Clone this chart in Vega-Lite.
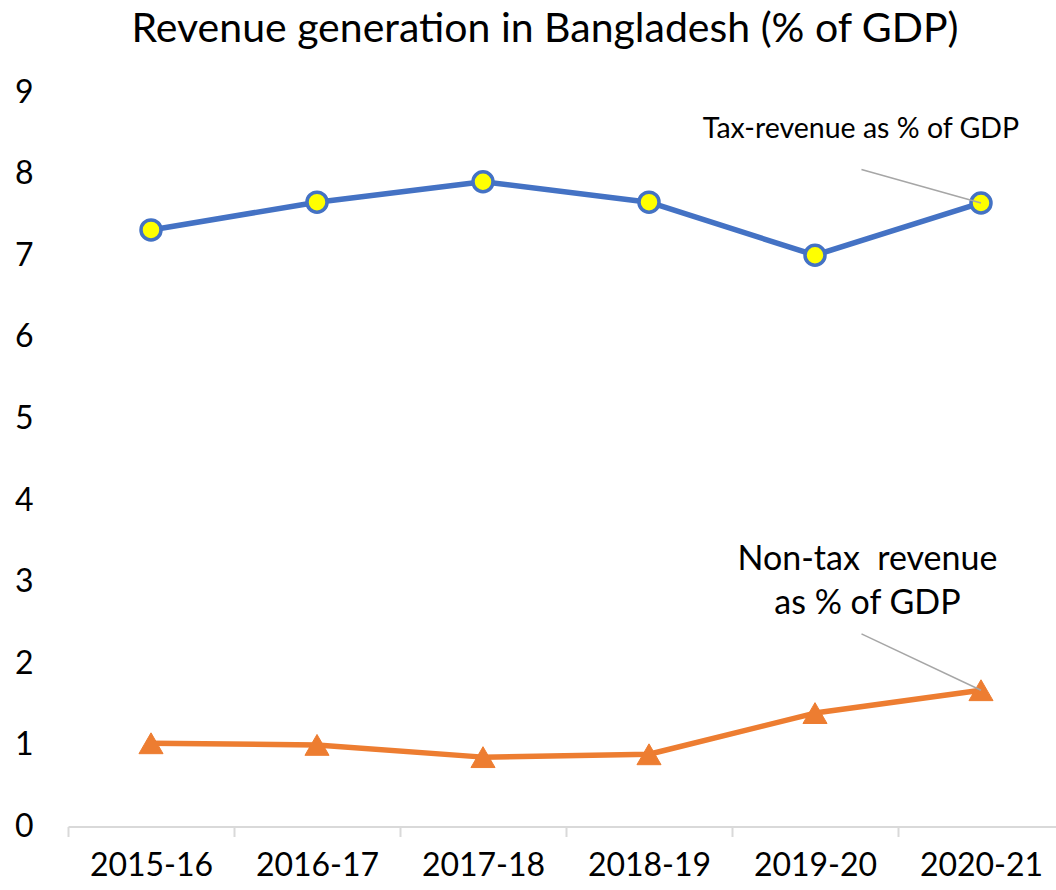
{
  "$schema": "https://vega.github.io/schema/vega-lite/v6.json",
  "autosize": {"type": "none"},
  "width": 988,
  "height": 734.5,
  "padding": {"left": 68, "top": 92, "right": 0, "bottom": 63.5},
  "background": "white",
  "config": {"view": {"stroke": null}, "font": "Lato"},
  "title": {
    "text": "Revenue generation in Bangladesh (% of GDP)",
    "font": "Lato",
    "fontSize": 41,
    "fontWeight": "normal",
    "color": "#000000",
    "anchor": "middle",
    "frame": "group",
    "dx": -17,
    "offset": 25
  },
  "datasets": {
    "series": [
      {"year": "2015-16", "series": "Tax", "value": 7.31},
      {"year": "2016-17", "series": "Tax", "value": 7.65},
      {"year": "2017-18", "series": "Tax", "value": 7.90},
      {"year": "2018-19", "series": "Tax", "value": 7.65},
      {"year": "2019-20", "series": "Tax", "value": 7.00},
      {"year": "2020-21", "series": "Tax", "value": 7.64},
      {"year": "2015-16", "series": "Non-tax", "value": 1.02},
      {"year": "2016-17", "series": "Non-tax", "value": 1.00},
      {"year": "2017-18", "series": "Non-tax", "value": 0.85},
      {"year": "2018-19", "series": "Non-tax", "value": 0.885},
      {"year": "2019-20", "series": "Non-tax", "value": 1.39},
      {"year": "2020-21", "series": "Non-tax", "value": 1.67}
    ],
    "leaders": [
      {"from": "2019-20", "to": "2020-21", "y1": 8.05, "y2": 7.64},
      {"from": "2019-20", "to": "2020-21", "y1": 2.36, "y2": 1.67}
    ],
    "taxNote": [
      {"x": "2019-20", "y": 8.55, "label": "Tax-revenue as % of GDP"}
    ],
    "nonTaxNote": [
      {"x": "2019-20", "y": 3.27, "label": "Non-tax\u00a0 revenue"},
      {"x": "2019-20", "y": 2.73, "label": "as % of GDP"}
    ]
  },
  "layer": [
    {
      "data": {"name": "series"},
      "mark": {"type": "line", "strokeWidth": 5.5, "strokeJoin": "round", "strokeCap": "round"},
      "encoding": {
        "x": {
          "field": "year", "type": "nominal",
          "scale": {"type": "band", "paddingInner": 0, "paddingOuter": 0, "range": [0, 996]},
          "axis": {
            "title": null, "labelAngle": 0, "labelFontSize": 32, "labelColor": "#000000",
            "labelPadding": 14, "domainColor": "#d9d9d9", "domainWidth": 2,
            "tickColor": "#d9d9d9", "tickWidth": 2, "tickSize": 10, "tickBand": "extent",
            "grid": false, "labelFont": "Lato"
          }
        },
        "y": {
          "field": "value", "type": "quantitative",
          "scale": {"domain": [0, 9], "nice": false, "zero": true},
          "axis": {
            "title": null, "values": [0, 1, 2, 3, 4, 5, 6, 7, 8, 9], "format": "d", "domain": false, "ticks": false,
            "grid": false, "labelFontSize": 32, "labelColor": "#000000", "labelPadding": 35,
            "labelFont": "Lato"
          }
        },
        "color": {
          "field": "series", "type": "nominal",
          "scale": {"domain": ["Tax", "Non-tax"], "range": ["#4472c4", "#ed7d31"]},
          "legend": null
        },
        "detail": {"field": "series"}
      }
    },
    {
      "data": {"name": "series"},
      "transform": [{"filter": "datum.series === 'Tax'"}],
      "mark": {"type": "point", "shape": "circle", "filled": true, "fill": "#ffff00", "stroke": "#4472c4", "strokeWidth": 3.5, "size": 400, "opacity": 1},
      "encoding": {
        "x": {"field": "year", "type": "nominal"},
        "y": {"field": "value", "type": "quantitative"}
      }
    },
    {
      "data": {"name": "series"},
      "transform": [{"filter": "datum.series === 'Non-tax'"}],
      "mark": {"type": "point", "shape": "triangle-up", "filled": true, "fill": "#ed7d31", "stroke": "#ed7d31", "strokeWidth": 1, "size": 580, "opacity": 1},
      "encoding": {
        "x": {"field": "year", "type": "nominal"},
        "y": {"field": "value", "type": "quantitative"}
      }
    },
    {
      "data": {"name": "leaders"},
      "mark": {"type": "rule", "color": "#a6a6a6", "strokeWidth": 1.5},
      "encoding": {
        "x": {"field": "from", "type": "nominal", "bandPosition": 0.78},
        "x2": {"field": "to", "bandPosition": 0.5},
        "y": {"field": "y1", "type": "quantitative"},
        "y2": {"field": "y2"}
      }
    },
    {
      "data": {"name": "taxNote"},
      "mark": {"type": "text", "font": "Lato", "fontSize": 28.5, "color": "#000000", "align": "center", "baseline": "middle"},
      "encoding": {
        "x": {"field": "x", "type": "nominal", "bandPosition": 0.777},
        "y": {"field": "y", "type": "quantitative"},
        "text": {"field": "label"}
      }
    },
    {
      "data": {"name": "nonTaxNote"},
      "mark": {"type": "text", "font": "Lato", "fontSize": 34, "color": "#000000", "align": "center", "baseline": "middle"},
      "encoding": {
        "x": {"field": "x", "type": "nominal", "bandPosition": 0.816},
        "y": {"field": "y", "type": "quantitative"},
        "text": {"field": "label"}
      }
    }
  ]
}
